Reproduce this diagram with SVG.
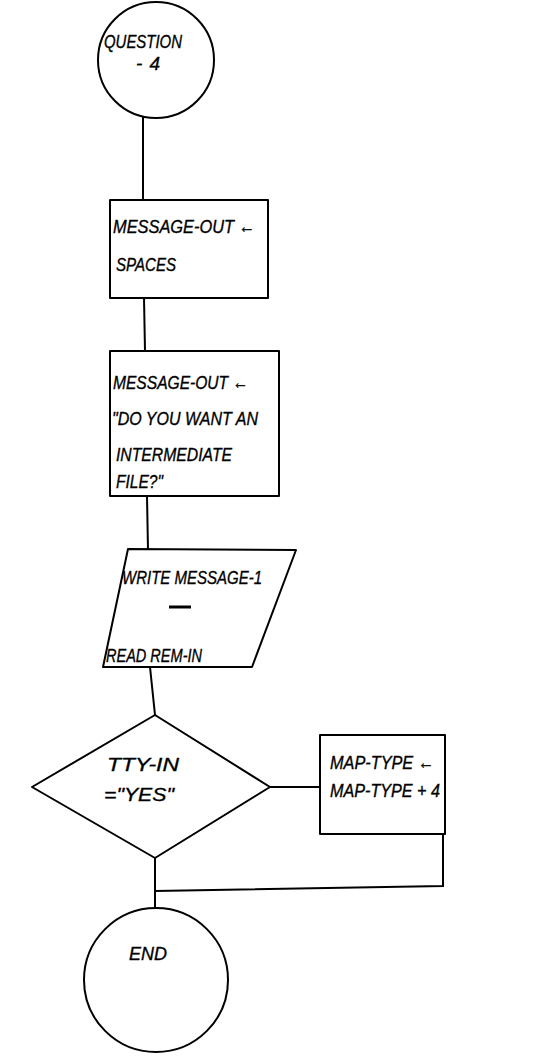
<svg xmlns="http://www.w3.org/2000/svg" width="560" height="1057" viewBox="0 0 560 1057">
  <style>
    .shape { fill: none; stroke: #000; stroke-width: 2; stroke-linejoin: round; }
    .wire { fill: none; stroke: #000; stroke-width: 2; }
    .lbl { font-family: "Liberation Sans", "DejaVu Sans", sans-serif; font-style: italic; font-size: 19px; fill: #000; stroke: #000; stroke-width: 0.35; }
  </style>
  <rect width="560" height="1057" fill="#fff"/>

  <!-- flow lines -->
  <g id="connectors">
    <line class="wire" x1="143" y1="117" x2="143" y2="200"/>
    <line class="wire" x1="144" y1="298" x2="145" y2="351"/>
    <line class="wire" x1="147" y1="496" x2="148" y2="550"/>
    <line class="wire" x1="150" y1="667" x2="155" y2="715"/>
    <line class="wire" x1="270" y1="787" x2="320" y2="787"/>
    <polyline class="wire" points="443,834 443,886 155,891"/>
    <line class="wire" x1="155" y1="858" x2="155" y2="908"/>
  </g>

  <!-- start terminal -->
  <g id="start">
    <circle class="shape" cx="156" cy="60" r="58"/>
    <text class="lbl" x="104" y="48" textLength="78" lengthAdjust="spacingAndGlyphs">QUESTION</text>
    <text class="lbl" x="136" y="70" textLength="24" lengthAdjust="spacing">-4</text>
  </g>

  <!-- clear the message buffer -->
  <g id="clear-message">
    <rect class="shape" x="110" y="200" width="158" height="98"/>
    <text class="lbl" x="113" y="233" textLength="142" lengthAdjust="spacingAndGlyphs">MESSAGE-OUT ←</text>
    <text class="lbl" x="116" y="271" textLength="60" lengthAdjust="spacingAndGlyphs">SPACES</text>
  </g>

  <!-- set the prompt text -->
  <g id="set-prompt">
    <rect class="shape" x="110" y="351" width="169" height="145"/>
    <text class="lbl" x="113" y="389" textLength="135" lengthAdjust="spacingAndGlyphs">MESSAGE-OUT ←</text>
    <text class="lbl" x="112" y="425" textLength="146" lengthAdjust="spacingAndGlyphs">"DO YOU WANT AN</text>
    <text class="lbl" x="116" y="461" textLength="116" lengthAdjust="spacingAndGlyphs">INTERMEDIATE</text>
    <text class="lbl" x="116" y="488" textLength="47" lengthAdjust="spacingAndGlyphs">FILE?"</text>
  </g>

  <!-- terminal I/O -->
  <g id="write-read">
    <polygon class="shape" points="128,549 296,550 252,667 103,667"/>
    <text class="lbl" x="122" y="584" textLength="140" lengthAdjust="spacingAndGlyphs">WRITE MESSAGE-1</text>
    <line x1="169" y1="607" x2="191" y2="607" stroke="#000" stroke-width="3"/>
    <text class="lbl" x="106" y="662" textLength="96" lengthAdjust="spacingAndGlyphs">READ REM-IN</text>
  </g>

  <!-- answer test -->
  <g id="decision">
    <polygon class="shape" points="155,715 270,787 155,858 32,787"/>
    <text class="lbl" x="107" y="771" textLength="72" lengthAdjust="spacingAndGlyphs">TTY-IN</text>
    <text class="lbl" x="104" y="801" textLength="70" lengthAdjust="spacingAndGlyphs">="YES"</text>
  </g>

  <!-- bump the map type -->
  <g id="map-type">
    <rect class="shape" x="320" y="735" width="125" height="99"/>
    <text class="lbl" x="330" y="769" textLength="104" lengthAdjust="spacingAndGlyphs">MAP-TYPE ←</text>
    <text class="lbl" x="330" y="797" textLength="110" lengthAdjust="spacingAndGlyphs">MAP-TYPE + 4</text>
  </g>

  <!-- end terminal -->
  <g id="end">
    <circle class="shape" cx="156" cy="980" r="72"/>
    <text class="lbl" x="129" y="960" textLength="38" lengthAdjust="spacingAndGlyphs">END</text>
  </g>
</svg>
